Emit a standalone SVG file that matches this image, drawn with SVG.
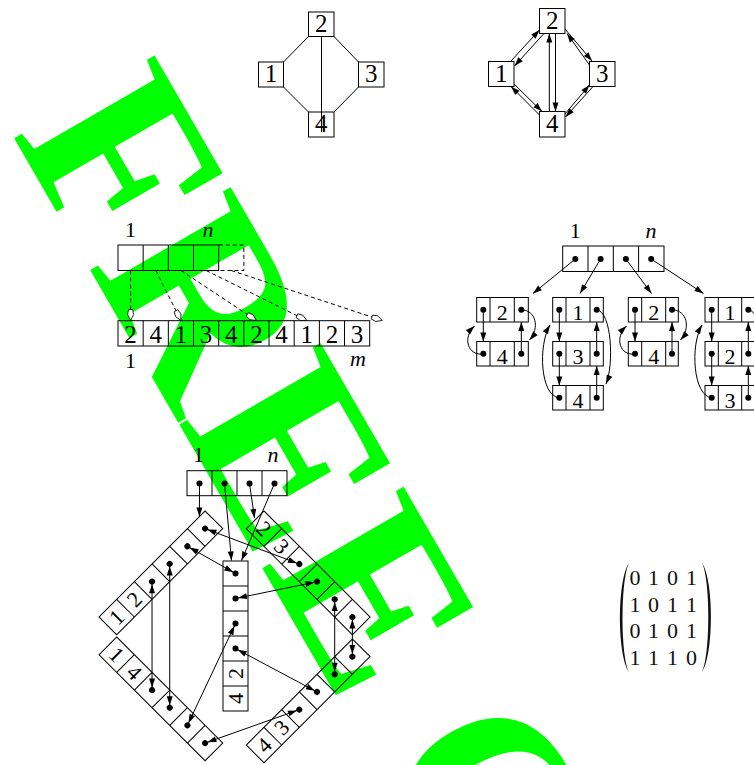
<svg xmlns="http://www.w3.org/2000/svg" width="754" height="765" viewBox="0 0 754 765">
<style>
.b{fill:none;stroke:#000;stroke-width:1}
.l{fill:none;stroke:#000;stroke-width:1}
.d{fill:none;stroke:#000;stroke-width:1;stroke-dasharray:4 3}
.t{font-family:"Liberation Serif","Times New Roman",serif;font-size:25px;text-anchor:middle;fill:#000}
.s{font-family:"Liberation Serif","Times New Roman",serif;font-size:22px;text-anchor:middle;fill:#000}
.i{font-style:italic}
.m{font-family:"Liberation Serif","Times New Roman",serif;font-size:22px;text-anchor:middle;fill:#111}
.dot{fill:#000}
.wm{font-family:"Liberation Serif","Times New Roman",serif;font-size:249px;font-weight:bold;fill:#00ff00}
</style>
<defs>
<marker id="ah" markerUnits="userSpaceOnUse" markerWidth="9" markerHeight="6" refX="9" refY="3" orient="auto" overflow="visible"><path d="M0,0 L9,3 L0,6 Z" fill="#000"/></marker>
<marker id="ahd" markerUnits="userSpaceOnUse" markerWidth="9" markerHeight="6" refX="11.5" refY="3" orient="auto-start-reverse" overflow="visible"><path d="M0,0 L9,3 L0,6 Z" fill="#000"/></marker>
<marker id="oh" markerUnits="userSpaceOnUse" markerWidth="11" markerHeight="6" refX="11" refY="3" orient="auto" overflow="visible"><path d="M0,1 L5,0 L11,3 L5,6 L0,5 Z" fill="#fff" stroke="#000" stroke-width="0.8"/></marker>
</defs>

<!-- watermark -->
<text class="wm" x="11.3" y="133.2" transform="rotate(60 11.3 133.2)">FREE C</text>

<!-- Graph 1 (undirected) -->
<g id="g1-edges">
<path class="l" d="M308.5,36.5 L283.5,62 M334,36.5 L358.5,62 M283.5,87 L308.5,112 M358.5,87 L334,112 M321.5,36.5 L321.5,132"/>
</g>
<g id="g1-n1"><rect class="b" x="258.5" y="62" width="25" height="25"/><text class="t" x="271" y="82">1</text></g>
<g id="g1-n2"><rect class="b" x="308.5" y="12" width="25.5" height="24.5"/><text class="t" x="321.3" y="32">2</text></g>
<g id="g1-n3"><rect class="b" x="358.5" y="62" width="25.5" height="25"/><text class="t" x="371.3" y="82">3</text></g>
<g id="g1-n4"><rect class="b" x="308.5" y="112" width="25.5" height="25"/><text class="t" x="321.3" y="132">4</text></g>

<!-- Graph 2 (directed) -->
<g id="g2-edges" marker-end="url(#ah)">
<line class="l" x1="511" y1="61" x2="539.5" y2="30"/>
<line class="l" x1="544" y1="33.5" x2="514.5" y2="66"/>
<line class="l" x1="565" y1="29" x2="592" y2="61"/>
<line class="l" x1="589.5" y1="65" x2="567" y2="33.5"/>
<line class="l" x1="514" y1="84" x2="542" y2="111.5"/>
<line class="l" x1="539.5" y1="115" x2="511" y2="86.5"/>
<line class="l" x1="565" y1="114" x2="589.5" y2="85"/>
<line class="l" x1="593" y1="86.5" x2="565.5" y2="117"/>
<line class="l" x1="549.3" y1="111.5" x2="549.3" y2="33.5"/>
<line class="l" x1="555.5" y1="33.5" x2="555.5" y2="111.5"/>
</g>
<g id="g2-n1"><rect class="b" x="488.5" y="61.5" width="25.5" height="25"/><text class="t" x="501.3" y="81.5">1</text></g>
<g id="g2-n2"><rect class="b" x="539.5" y="8.5" width="25.5" height="25"/><text class="t" x="552.3" y="28.5">2</text></g>
<g id="g2-n3"><rect class="b" x="589.5" y="61.5" width="25.5" height="25"/><text class="t" x="602.3" y="81.5">3</text></g>
<g id="g2-n4"><rect class="b" x="539.5" y="111.5" width="25.5" height="25.5"/><text class="t" x="552.3" y="131.5">4</text></g>

<!-- Array representation -->
<g id="arr-index">
<text class="s" x="130.6" y="236.5">1</text>
<text class="s i" x="208" y="236.5">n</text>
<rect class="b" x="118" y="245" width="100.68" height="25.5"/>
<path class="l" d="M143.17,245 V270.5 M168.34,245 V270.5 M193.51,245 V270.5"/>
<path class="d" d="M218.68,245 H243.85 V270.5 H218.68"/>
</g>
<g id="arr-adj">
<rect class="b" x="118" y="320.7" width="251.7" height="25.3"/>
<path class="l" d="M143.17,320.7 V346 M168.34,320.7 V346 M193.51,320.7 V346 M218.68,320.7 V346 M243.85,320.7 V346 M269.02,320.7 V346 M294.19,320.7 V346 M319.36,320.7 V346 M344.53,320.7 V346"/>
<text class="t" x="130.6" y="342.5">2</text>
<text class="t" x="155.8" y="342.5">4</text>
<text class="t" x="180.9" y="342.5">1</text>
<text class="t" x="206.1" y="342.5">3</text>
<text class="t" x="231.3" y="342.5">4</text>
<text class="t" x="256.4" y="342.5">2</text>
<text class="t" x="281.6" y="342.5">4</text>
<text class="t" x="306.8" y="342.5">1</text>
<text class="t" x="331.9" y="342.5">2</text>
<text class="t" x="357.1" y="342.5">3</text>
<text class="s" x="130.6" y="368">1</text>
<text class="s i" x="358" y="366">m</text>
</g>
<g id="arr-pointers" marker-end="url(#oh)">
<line class="d" x1="130.6" y1="270.5" x2="130.6" y2="320.5"/>
<line class="d" x1="155.8" y1="270.5" x2="180.9" y2="320.5"/>
<line class="d" x1="181" y1="270.5" x2="256.4" y2="320.5"/>
<line class="d" x1="206.1" y1="270.5" x2="306.8" y2="320.5"/>
<line class="d" x1="231.3" y1="270.5" x2="382.3" y2="320.5"/>
</g>

<!-- Adjacency lists -->
<g id="adj-heads">
<text class="s" x="575.3" y="238">1</text>
<text class="s i" x="651" y="238">n</text>
<rect class="b" x="562.7" y="246" width="101.3" height="25.5"/>
<path class="l" d="M588,246 V271.5 M613.3,246 V271.5 M638.6,246 V271.5"/>
<circle class="dot" cx="575.3" cy="259" r="3"/>
<circle class="dot" cx="600.6" cy="259" r="3"/>
<circle class="dot" cx="625.9" cy="259" r="3"/>
<circle class="dot" cx="651.2" cy="259" r="3"/>
</g>
<g id="list1">
<rect class="b" x="476.7" y="297.5" width="51.6" height="24.5"/>
<rect class="b" x="476.7" y="341.5" width="51.6" height="24.5"/>
<path class="l" d="M490,297.5 V322 M514.3,297.5 V322 M490,341.5 V366 M514.3,341.5 V366"/>
<text class="s" x="502.2" y="320">2</text><text class="s" x="502.2" y="364">4</text>
<circle class="dot" cx="483.3" cy="309.75" r="3"/><circle class="dot" cx="521.3" cy="309.75" r="3"/>
<circle class="dot" cx="483.3" cy="353.75" r="3"/><circle class="dot" cx="521.3" cy="353.75" r="3"/>
</g>
<g id="list2">
<rect class="b" x="552.7" y="297.5" width="50.6" height="24.5"/>
<rect class="b" x="552.7" y="341.5" width="50.6" height="24.5"/>
<rect class="b" x="552.7" y="385.5" width="50.6" height="24.5"/>
<path class="l" d="M566,297.5 V322 M590,297.5 V322 M566,341.5 V366 M590,341.5 V366 M566,385.5 V410 M590,385.5 V410"/>
<text class="s" x="578" y="320">1</text><text class="s" x="578" y="364">3</text><text class="s" x="578" y="408">4</text>
<circle class="dot" cx="559.3" cy="309.75" r="3"/><circle class="dot" cx="596.7" cy="309.75" r="3"/>
<circle class="dot" cx="559.3" cy="353.75" r="3"/><circle class="dot" cx="596.7" cy="353.75" r="3"/>
<circle class="dot" cx="559.3" cy="397.75" r="3"/><circle class="dot" cx="596.7" cy="397.75" r="3"/>
</g>
<g id="list3">
<rect class="b" x="628.3" y="297.5" width="50" height="24.5"/>
<rect class="b" x="628.3" y="341.5" width="50" height="24.5"/>
<path class="l" d="M641.7,297.5 V322 M665.7,297.5 V322 M641.7,341.5 V366 M665.7,341.5 V366"/>
<text class="s" x="653.7" y="320">2</text><text class="s" x="653.7" y="364">4</text>
<circle class="dot" cx="635" cy="309.75" r="3"/><circle class="dot" cx="672" cy="309.75" r="3"/>
<circle class="dot" cx="635" cy="353.75" r="3"/><circle class="dot" cx="672" cy="353.75" r="3"/>
</g>
<g id="list4">
<rect class="b" x="705" y="297.5" width="50" height="24.5"/>
<rect class="b" x="705" y="341.5" width="50" height="24.5"/>
<rect class="b" x="705" y="385.5" width="50" height="24.5"/>
<path class="l" d="M718.3,297.5 V322 M741.7,297.5 V322 M718.3,341.5 V366 M741.7,341.5 V366 M718.3,385.5 V410 M741.7,385.5 V410"/>
<text class="s" x="730" y="320">1</text><text class="s" x="730" y="364">2</text><text class="s" x="730" y="408">3</text>
<circle class="dot" cx="711.7" cy="309.75" r="3"/><circle class="dot" cx="748.3" cy="309.75" r="3"/>
<circle class="dot" cx="711.7" cy="353.75" r="3"/><circle class="dot" cx="748.3" cy="353.75" r="3"/>
<circle class="dot" cx="711.7" cy="397.75" r="3"/><circle class="dot" cx="748.3" cy="397.75" r="3"/>
</g>
<g id="adj-connectors" marker-end="url(#ah)">
<line class="l" x1="575.3" y1="259" x2="533" y2="293.5"/>
<line class="l" x1="600.6" y1="259" x2="580" y2="293.5"/>
<line class="l" x1="625.9" y1="259" x2="651.5" y2="293.5"/>
<line class="l" x1="651.2" y1="259" x2="703.5" y2="293.5"/>
<line class="l" x1="483.3" y1="309.75" x2="483.3" y2="341.5"/>
<line class="l" x1="521.3" y1="353.75" x2="521.3" y2="322"/>
<path class="l" d="M483.3,354 C468,356 462,338 474.5,326"/>
<path class="l" d="M521.3,309.75 C536,310 540,328 529.5,340"/>
<line class="l" x1="559.3" y1="309.75" x2="559.3" y2="341.5"/>
<line class="l" x1="559.3" y1="353.75" x2="559.3" y2="385.5"/>
<line class="l" x1="596.7" y1="353.75" x2="596.7" y2="322"/>
<line class="l" x1="596.7" y1="397.75" x2="596.7" y2="366"/>
<path class="l" d="M559.3,397.75 C540,396 538,345 550,325"/>
<path class="l" d="M596.7,309.75 C612,312 614,365 606,384"/>
<line class="l" x1="635" y1="309.75" x2="635" y2="341.5"/>
<line class="l" x1="672" y1="353.75" x2="672" y2="322"/>
<path class="l" d="M635,354 C620,356 614,338 626.5,326"/>
<path class="l" d="M672,309.75 C687,310 691,328 680.5,340"/>
<line class="l" x1="711.7" y1="309.75" x2="711.7" y2="341.5"/>
<line class="l" x1="711.7" y1="353.75" x2="711.7" y2="385.5"/>
<line class="l" x1="748.3" y1="353.75" x2="748.3" y2="322"/>
<line class="l" x1="748.3" y1="397.75" x2="748.3" y2="366"/>
<path class="l" d="M711.7,397.75 C693,396 690,345 702,325"/>
<path class="l" d="M748.3,309.75 C764,312 766,365 758,384"/>
</g>

<!-- Edge-node representation -->
<g id="vert-heads">
<text class="s" x="198.5" y="461.5">1</text>
<text class="s i" x="273" y="461.5">n</text>
<rect class="b" x="187" y="470.7" width="100" height="25"/>
<path class="l" d="M212,470.7 V495.7 M237,470.7 V495.7 M262,470.7 V495.7"/>
<circle class="dot" cx="199.5" cy="483.5" r="3"/>
<circle class="dot" cx="224.5" cy="483.5" r="3"/>
<circle class="dot" cx="249.5" cy="483.5" r="3"/>
<circle class="dot" cx="274.5" cy="483.5" r="3"/>
</g>
<g id="edge-1-2" transform="translate(99,617) rotate(-45)">
<rect class="b" x="0" y="0" width="150" height="25"/>
<path class="l" d="M25,0 V25 M50,0 V25 M75,0 V25 M100,0 V25 M125,0 V25"/>
<text class="s" x="12.5" y="20">1</text><text class="s" x="37.5" y="20">2</text>
<circle class="dot" cx="62.5" cy="12.5" r="3"/><circle class="dot" cx="87.5" cy="12.5" r="3"/><circle class="dot" cx="112.5" cy="12.5" r="3"/><circle class="dot" cx="137.5" cy="12.5" r="3"/>
</g>
<g id="edge-1-4" transform="translate(116.7,637) rotate(45)">
<rect class="b" x="0" y="0" width="150" height="25"/>
<path class="l" d="M25,0 V25 M50,0 V25 M75,0 V25 M100,0 V25 M125,0 V25"/>
<text class="s" x="12.5" y="20">1</text><text class="s" x="37.5" y="20">4</text>
<circle class="dot" cx="62.5" cy="12.5" r="3"/><circle class="dot" cx="87.5" cy="12.5" r="3"/><circle class="dot" cx="112.5" cy="12.5" r="3"/><circle class="dot" cx="137.5" cy="12.5" r="3"/>
</g>
<g id="edge-2-3" transform="translate(264,511) rotate(45)">
<rect class="b" x="0" y="0" width="150" height="25"/>
<path class="l" d="M25,0 V25 M50,0 V25 M75,0 V25 M100,0 V25 M125,0 V25"/>
<text class="s" x="12.5" y="20">2</text><text class="s" x="37.5" y="20">3</text>
<circle class="dot" cx="62.5" cy="12.5" r="3"/><circle class="dot" cx="87.5" cy="12.5" r="3"/><circle class="dot" cx="112.5" cy="12.5" r="3"/><circle class="dot" cx="137.5" cy="12.5" r="3"/>
</g>
<g id="edge-4-3" transform="translate(246.3,745) rotate(-45)">
<rect class="b" x="0" y="0" width="150" height="25"/>
<path class="l" d="M25,0 V25 M50,0 V25 M75,0 V25 M100,0 V25 M125,0 V25"/>
<text class="s" x="12.5" y="20">4</text><text class="s" x="37.5" y="20">3</text>
<circle class="dot" cx="62.5" cy="12.5" r="3"/><circle class="dot" cx="87.5" cy="12.5" r="3"/><circle class="dot" cx="112.5" cy="12.5" r="3"/><circle class="dot" cx="137.5" cy="12.5" r="3"/>
</g>
<g id="edge-4-2">
<rect class="b" x="223" y="561" width="25" height="150"/>
<path class="l" d="M223,586 H248 M223,611 H248 M223,636 H248 M223,661 H248 M223,686 H248"/>
<circle class="dot" cx="235.5" cy="573.5" r="3"/><circle class="dot" cx="235.5" cy="598.5" r="3"/><circle class="dot" cx="235.5" cy="623.5" r="3"/><circle class="dot" cx="235.5" cy="648.5" r="3"/>
<text class="s" transform="translate(235.5,673.5) rotate(-90)" x="0" y="7.5">2</text>
<text class="s" transform="translate(235.5,698.5) rotate(-90)" x="0" y="7.5">4</text>
</g>
<g id="edge-connectors">
<g marker-end="url(#ah)">
<line class="l" x1="199.5" y1="483.5" x2="199.4" y2="516.5"/>
<line class="l" x1="224.5" y1="483.5" x2="231.5" y2="560.5"/>
<line class="l" x1="249.5" y1="483.5" x2="254.5" y2="518"/>
<line class="l" x1="274.5" y1="483.5" x2="241.5" y2="560.5"/>
</g>
<g marker-start="url(#ahd)" marker-end="url(#ahd)">
<line class="l" x1="152.03" y1="581.64" x2="152.06" y2="690.03"/>
<line class="l" x1="169.71" y1="563.97" x2="169.73" y2="707.71"/>
<line class="l" x1="187.39" y1="546.29" x2="235.5" y2="573.5"/>
<line class="l" x1="205.07" y1="528.61" x2="299.36" y2="564.04"/>
<line class="l" x1="235.5" y1="598.5" x2="317.03" y2="581.71"/>
<line class="l" x1="235.5" y1="623.5" x2="187.41" y2="725.39"/>
<line class="l" x1="235.5" y1="648.5" x2="317.01" y2="691.96"/>
<line class="l" x1="205.09" y1="743.07" x2="299.33" y2="709.64"/>
<line class="l" x1="334.71" y1="599.39" x2="334.69" y2="674.29"/>
<line class="l" x1="352.39" y1="617.07" x2="352.37" y2="656.61"/>
</g>
</g>

<!-- Adjacency matrix -->
<g id="matrix">
<path d="M629,563 C617,580 617,655 629,672 C620.5,655 620.5,580 629,563 Z" fill="#111"/>
<path d="M702,563 C714,580 714,655 702,672 C710.5,655 710.5,580 702,563 Z" fill="#111"/>
<text class="m" x="635" y="585">0</text><text class="m" x="653.5" y="585">1</text><text class="m" x="672.5" y="585">0</text><text class="m" x="691.5" y="585">1</text>
<text class="m" x="635" y="611.7">1</text><text class="m" x="653.5" y="611.7">0</text><text class="m" x="672.5" y="611.7">1</text><text class="m" x="691.5" y="611.7">1</text>
<text class="m" x="635" y="638.3">0</text><text class="m" x="653.5" y="638.3">1</text><text class="m" x="672.5" y="638.3">0</text><text class="m" x="691.5" y="638.3">1</text>
<text class="m" x="635" y="665">1</text><text class="m" x="653.5" y="665">1</text><text class="m" x="672.5" y="665">1</text><text class="m" x="691.5" y="665">0</text>
</g>
</svg>
